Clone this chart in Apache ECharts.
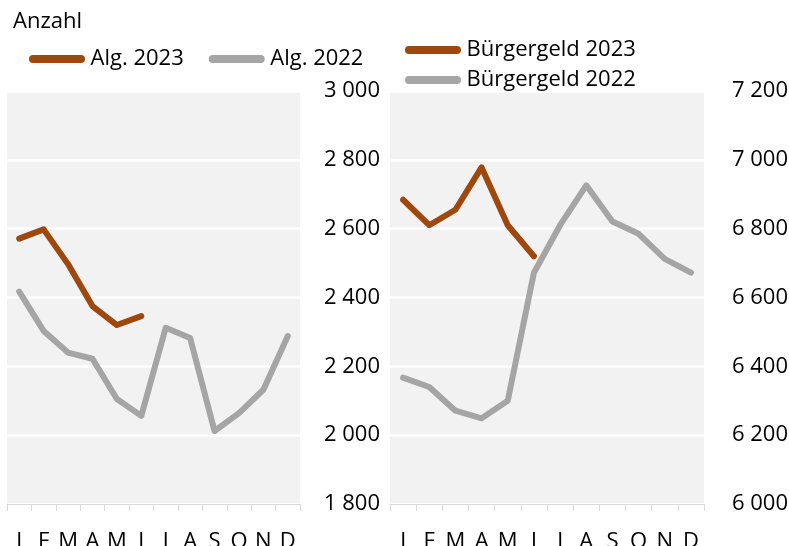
<!DOCTYPE html>
<html>
<head>
<meta charset="utf-8">
<script src="https://cdn.jsdelivr.net/npm/echarts@6/dist/echarts.min.js"></script>
<style>
  html, body { margin: 0; padding: 0; background: #fff; }
  #chart { width: 789px; height: 546px; }
</style>
</head>
<body>
<div id="chart"></div>
<script>
// Monate
var months = ['J', 'F', 'M', 'A', 'M', 'J', 'J', 'A', 'S', 'O', 'N', 'D'];

// linkes Panel: Alg.
var alg2023 = [2571, 2598, 2497, 2375, 2320, 2346];
var alg2022 = [2417, 2303, 2240, 2222, 2105, 2056, 2312, 2282, 2012, 2064, 2132, 2288];

// rechtes Panel: Bürgergeld
var bg2023 = [6884, 6810, 6855, 6978, 6810, 6720];
var bg2022 = [6367, 6340, 6271, 6249, 6300, 6672, 6810, 6926, 6821, 6785, 6712, 6672];

var BROWN = '#9E480E';
var GREY = '#A5A5A5';
var FONT = 'Open Sans';

// Legenden-Symbol: Balken mit runden Enden
var pill = 'path://M4,0 L52,0 A4,4 0 0 1 52,8 L4,8 A4,4 0 0 1 4,0 Z';

function fmt(v) {
  return String(v).replace(/\B(?=(\d{3})+(?!\d))/g, ' ');
}

function xAxisFor(idx) {
  return {
    type: 'category',
    gridIndex: idx,
    data: months,
    boundaryGap: true,
    axisLine: { lineStyle: { color: '#D9D9D9', width: 1 } },
    axisTick: { show: true, length: 7, lineStyle: { color: '#D9D9D9' } },
    axisLabel: { color: '#000', fontFamily: FONT, fontSize: 22, margin: 27, interval: 0 }
  };
}

function yAxisFor(idx, min, max, margin, align) {
  return {
    type: 'value',
    gridIndex: idx,
    position: 'right',
    min: min,
    max: max,
    interval: 200,
    axisLine: { show: false },
    axisTick: { show: false },
    splitLine: { show: true, lineStyle: { color: '#FFFFFF', width: 2.5 } },
    axisLabel: {
      color: '#000', fontFamily: FONT, fontSize: 22, margin: margin, align: align,
      formatter: fmt
    }
  };
}

function lineSeries(name, data, color, xi, yi, z) {
  return {
    name: name,
    type: 'line',
    xAxisIndex: xi,
    yAxisIndex: yi,
    data: data,
    symbol: 'none',
    smooth: false,
    z: z,
    lineStyle: { color: color, width: 6, cap: 'round', join: 'round' },
    itemStyle: { color: color }
  };
}

var option = {
  animation: false,
  backgroundColor: '#fff',
  title: {
    text: 'Anzahl',
    left: 8,
    top: 6,
    textStyle: { fontFamily: FONT, fontSize: 22, fontWeight: 'normal', color: '#000' }
  },
  legend: [{
    left: 24,
    top: 43,
    orient: 'horizontal',
    itemWidth: 57,
    itemHeight: 8,
    itemGap: 25,
    icon: pill,
    data: ['Alg. 2023', 'Alg. 2022'],
    textStyle: { fontFamily: FONT, fontSize: 22, color: '#000' }
  }, {
    left: 400,
    top: 34,
    orient: 'vertical',
    itemWidth: 57,
    itemHeight: 8,
    itemGap: 8,
    icon: pill,
    data: ['Bürgergeld 2023', 'Bürgergeld 2022'],
    textStyle: { fontFamily: FONT, fontSize: 22, color: '#000' }
  }],
  grid: [{
    left: 7, right: 489, top: 91, bottom: 42,
    outerBoundsMode: 'none', containLabel: false,
    show: true, backgroundColor: '#F2F2F2', borderWidth: 0
  }, {
    left: 390, right: 85, top: 91, bottom: 42,
    outerBoundsMode: 'none', containLabel: false,
    show: true, backgroundColor: '#F2F2F2', borderWidth: 0
  }],
  xAxis: [xAxisFor(0), xAxisFor(1)],
  yAxis: [
    yAxisFor(0, 1800, 3000, 80, 'right'),
    yAxisFor(1, 6000, 7200, 28, 'left')
  ],
  series: [
    lineSeries('Alg. 2022', alg2022, GREY, 0, 0, 2),
    lineSeries('Alg. 2023', alg2023, BROWN, 0, 0, 3),
    lineSeries('Bürgergeld 2022', bg2022, GREY, 1, 1, 2),
    lineSeries('Bürgergeld 2023', bg2023, BROWN, 1, 1, 3)
  ]
};

var chart = echarts.init(document.getElementById('chart'), null, { renderer: 'canvas' });
chart.setOption(option);
</script>
</body>
</html>
